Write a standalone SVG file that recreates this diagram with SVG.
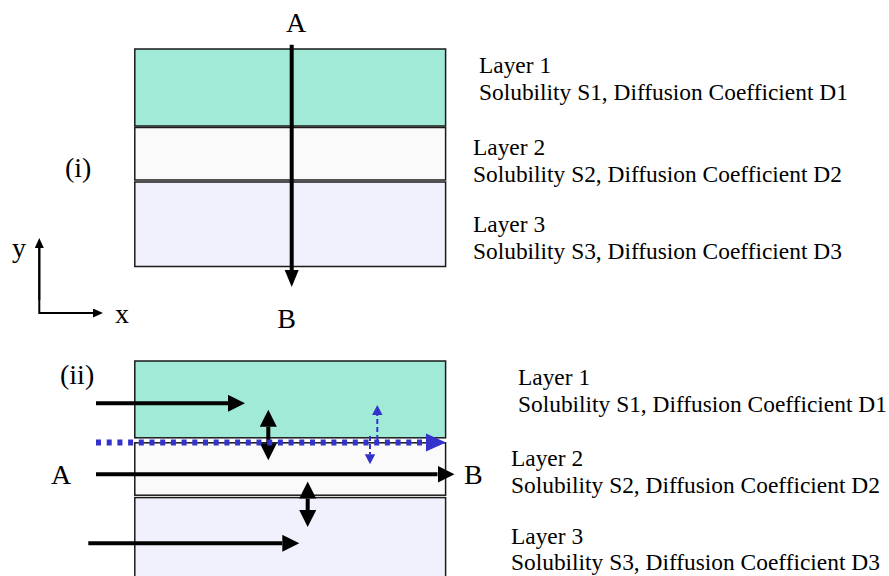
<svg xmlns="http://www.w3.org/2000/svg" width="889" height="576" viewBox="0 0 889 576">
  <style>
    text { font-family: 'Liberation Serif', Tinos, 'Times New Roman', 'DejaVu Serif', serif; fill: #000; }
    .lbl { font-size: 23.4px; }
    .big { font-size: 28px; }
    .layer { stroke: #1a1a1a; stroke-width: 1.5; }
    .l1 { fill: #a0ead7; }
    .l2 { fill: #fafafa; }
    .l3 { fill: #f1f1fd; }
    .flow { stroke: #000; stroke-width: 4; fill: none; }
    .axis { stroke: #000; stroke-width: 2; fill: none; }
    .bdot { stroke: #3333cc; stroke-width: 6; stroke-dasharray: 5 5.7; fill: none; }
    .bdash { stroke: #3333cc; stroke-width: 2; stroke-dasharray: 5 3; fill: none; }
  </style>
  <defs>
    <marker id="head" markerUnits="userSpaceOnUse" markerWidth="18" markerHeight="18" refX="0" refY="8.5" orient="auto-start-reverse">
      <path d="M0,0 L17,8.5 L0,17 z" fill="#000"/>
    </marker>
    <marker id="headNarrow" markerUnits="userSpaceOnUse" markerWidth="18" markerHeight="16" refX="0" refY="7" orient="auto">
      <path d="M0,0 L17,7 L0,14 z" fill="#000"/>
    </marker>
    <marker id="axisHead" markerUnits="userSpaceOnUse" markerWidth="11" markerHeight="10" refX="0" refY="4.5" orient="auto">
      <path d="M0,0 L10,4.5 L0,9 z" fill="#000"/>
    </marker>
    <marker id="blueHead" markerUnits="userSpaceOnUse" markerWidth="21" markerHeight="19" refX="0" refY="9" orient="auto">
      <path d="M0,0 L20,9 L0,18 z" fill="#3333cc"/>
    </marker>
    <marker id="blueSmall" markerUnits="userSpaceOnUse" markerWidth="11" markerHeight="11" refX="0" refY="5.2" orient="auto">
      <path d="M0,0 L10,5.2 L0,10.4 z" fill="#3333cc"/>
    </marker>
  </defs>

  <!-- (i) stack, flow across the layers -->
  <g id="stack-i">
    <g id="i-layer1"><rect class="layer l1" x="134.8" y="49" width="310.8" height="77"/></g>
    <g id="i-layer2"><rect class="layer l2" x="134.8" y="127.5" width="310.8" height="52.5"/></g>
    <g id="i-layer3"><rect class="layer l3" x="134.8" y="182" width="310.8" height="84.5"/></g>
  </g>
  <g id="i-labels">
    <text class="big" x="65" y="177">(i)</text>
    <text class="big" x="296" y="32" text-anchor="middle">A</text>
    <text class="big" x="286.5" y="328" text-anchor="middle">B</text>
    <text class="lbl" x="479" y="73">Layer 1</text>
    <text class="lbl" x="479" y="100">Solubility S1, Diffusion Coefficient D1</text>
    <text class="lbl" x="473" y="155">Layer 2</text>
    <text class="lbl" x="473" y="182">Solubility S2, Diffusion Coefficient D2</text>
    <text class="lbl" x="473" y="232">Layer 3</text>
    <text class="lbl" x="473" y="259">Solubility S3, Diffusion Coefficient D3</text>
  </g>

  <!-- coordinate axes -->
  <g id="axes">
    <path class="axis" d="M39.3,248 L39.3,313 L93,313" marker-end="url(#axisHead)"/>
    <path class="axis" d="M39.3,300 L39.3,248" marker-end="url(#axisHead)"/>
    <text class="big" x="12" y="257">y</text>
    <text class="big" x="115" y="323">x</text>
  </g>

  <!-- (ii) stack, flow along the layers -->
  <g id="stack-ii">
    <g id="ii-layer1"><rect class="layer l1" x="134.8" y="361" width="310.8" height="76.8"/></g>
    <g id="ii-layer2"><rect class="layer l2" x="134.8" y="442.8" width="310.8" height="52.4"/></g>
    <g id="ii-layer3"><rect class="layer l3" x="134.8" y="497.6" width="310.8" height="100"/></g>
  </g>
  <g id="ii-labels">
    <text class="big" x="60" y="384">(ii)</text>
    <text class="big" x="51" y="484">A</text>
    <text class="big" x="464" y="484">B</text>
    <text class="lbl" x="518" y="385">Layer 1</text>
    <text class="lbl" x="518" y="412">Solubility S1, Diffusion Coefficient D1</text>
    <text class="lbl" x="511" y="466">Layer 2</text>
    <text class="lbl" x="511" y="493">Solubility S2, Diffusion Coefficient D2</text>
    <text class="lbl" x="511" y="544">Layer 3</text>
    <text class="lbl" x="511" y="570">Solubility S3, Diffusion Coefficient D3</text>
  </g>

  <!-- connectors -->
  <g id="connectors">
    <!-- (i) A to B through the stack -->
    <line class="flow" x1="291.7" y1="44.7" x2="291.7" y2="270" stroke-width="3.4" marker-end="url(#headNarrow)"/>
    <!-- (ii) in-plane flows -->
    <line class="flow" x1="96" y1="403.3" x2="228" y2="403.3" marker-end="url(#head)"/>
    <line class="flow" x1="96" y1="474.3" x2="437.5" y2="474.3" marker-end="url(#head)"/>
    <line class="flow" x1="88.3" y1="543.3" x2="282.3" y2="543.3" marker-end="url(#head)"/>
    <!-- (ii) exchange between layers -->
    <line class="flow" x1="268.3" y1="426.7" x2="268.3" y2="443.3" marker-start="url(#head)" marker-end="url(#head)"/>
    <line class="flow" x1="307.7" y1="498.5" x2="307.7" y2="510" marker-start="url(#head)" marker-end="url(#head)"/>
    <!-- (ii) interface path -->
    <line class="bdot" x1="96" y1="442.4" x2="426" y2="442.4" marker-end="url(#blueHead)"/>
    <line class="bdash" x1="377.3" y1="440" x2="377.3" y2="415" marker-end="url(#blueSmall)"/>
    <line class="bdash" x1="370" y1="436" x2="370" y2="454.3" marker-end="url(#blueSmall)"/>
  </g>
</svg>
